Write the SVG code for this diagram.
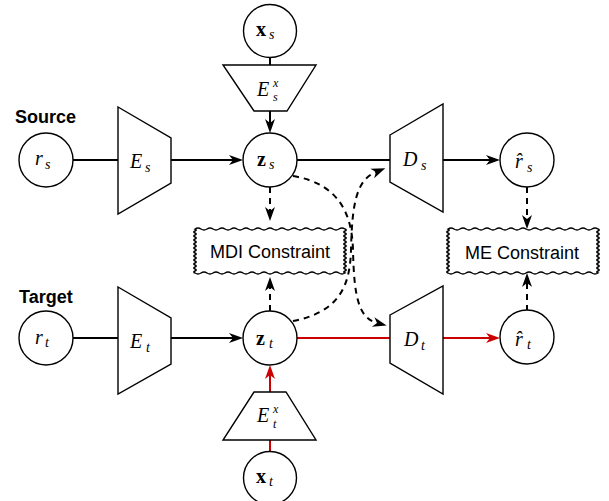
<svg xmlns="http://www.w3.org/2000/svg" xmlns:xlink="http://www.w3.org/1999/xlink" width="609" height="501" viewBox="0 0 609 501">
<style>
.shape{fill:#fff;stroke:#000;stroke-width:1.4}
.c{fill:none;stroke:#000;stroke-width:2}
.red{stroke:#cc0000}
.d{stroke-dasharray:6 5}
.m{font-family:"Liberation Serif",serif;font-style:italic;font-size:20px;fill:#000}
.mb{font-family:"Liberation Serif",serif;font-weight:bold;font-size:20px;fill:#000}
.s{font-family:"Liberation Serif",serif;font-style:italic;font-size:14px;fill:#000}
.ss{font-family:"Liberation Serif",serif;font-style:italic;font-size:12px;fill:#000}
.lbl{font-family:"Liberation Sans",Arial,sans-serif;font-weight:bold;font-size:18px;fill:#000}
.box{font-family:"Liberation Sans",Arial,sans-serif;font-size:18px;fill:#000;text-anchor:middle}
</style>
<defs>
<marker id="ab" markerUnits="userSpaceOnUse" markerWidth="14" markerHeight="10" refX="4" refY="5" orient="auto" overflow="visible"><path d="M0,0 L14,5 L0,10 L4,5 Z" fill="#000"/></marker>
<marker id="ar" markerUnits="userSpaceOnUse" markerWidth="14" markerHeight="10" refX="4" refY="5" orient="auto" overflow="visible"><path d="M0,0 L14,5 L0,10 L4,5 Z" fill="#cc0000"/></marker>
<path id="wbox" class="shape" d="M0,0 q3,-2 6,0 t6,0 t6,0 t6,0 t6,0 t6,0 t6,0 t6,0 t6,0 t6,0 t6,0 t6,0 t6,0 t6,0 t6,0 t6,0 t6,0 t6,0 t6,0 t6,0 t6,0 t6,0 t6,0 t6,0 t6,0 q2.5,1 0,2 t0,2 t0,2 t0,2 t0,2 t0,2 t0,2 t0,2 t0,2 t0,2 t0,2 t0,2 t0,2 t0,2 t0,2 t0,2 t0,2 t0,2 t0,2 t0,2 t0,2 t0,2 q-3,2 -6,0 t-6,0 t-6,0 t-6,0 t-6,0 t-6,0 t-6,0 t-6,0 t-6,0 t-6,0 t-6,0 t-6,0 t-6,0 t-6,0 t-6,0 t-6,0 t-6,0 t-6,0 t-6,0 t-6,0 t-6,0 t-6,0 t-6,0 t-6,0 t-6,0 q-2.5,-1 0,-2 t0,-2 t0,-2 t0,-2 t0,-2 t0,-2 t0,-2 t0,-2 t0,-2 t0,-2 t0,-2 t0,-2 t0,-2 t0,-2 t0,-2 t0,-2 t0,-2 t0,-2 t0,-2 t0,-2 t0,-2 t0,-2 Z"/>
</defs>
<rect width="609" height="501" fill="#fff"/>

<g id="connectors">
<path class="c" d="M73,160 H118"/>
<path class="c" d="M171,160 H233" marker-end="url(#ab)"/>
<path class="c" d="M270,58 V66"/>
<path class="c" d="M270,111 V123" marker-end="url(#ab)"/>
<path class="c" d="M297,160 H390"/>
<path class="c" d="M443,160 H490" marker-end="url(#ab)"/>
<path class="c d" d="M527,187 V219" marker-end="url(#ab)"/>
<path class="c d" d="M270,187 V211" marker-end="url(#ab)"/>
<path class="c d" d="M270,311 V287" marker-end="url(#ab)"/>
<path class="c d" d="M527,311 V283" marker-end="url(#ab)"/>
<path class="c d" d="M293,176 C340,184 352,215 353,250 C354,295 358,318 377,323" marker-end="url(#ab)"/>
<path class="c d" d="M293,321 C340,312 350,285 351,250 C352,205 356,180 376,172" marker-end="url(#ab)"/>
<path class="c" d="M73,338 H118"/>
<path class="c" d="M171,338 H233" marker-end="url(#ab)"/>
<path class="c red" d="M297,338 H390"/>
<path class="c red" d="M443,338 H490" marker-end="url(#ar)"/>
<path class="c red" d="M270,451 V440"/>
<path class="c red" d="M270,392 V375" marker-end="url(#ar)"/>
</g>

<text class="lbl" x="15" y="123">Source</text>
<text class="lbl" x="19" y="303">Target</text>

<g id="r_s"><circle class="shape" cx="46" cy="160" r="27"/><text class="m" x="35" y="165">r</text><text class="s" x="45" y="169">s</text></g>
<g id="E_s"><polygon class="shape" points="118,107 171,138 171,183 118,214"/><text class="m" x="130" y="168">E</text><text class="s" x="145" y="172">s</text></g>
<g id="x_s"><circle class="shape" cx="270" cy="31" r="26.5"/><text class="mb" x="256" y="36">x</text><text class="s" x="269" y="39">s</text></g>
<g id="E_s_x"><polygon class="shape" points="223,65 316,65 287,111 254,111"/><text class="m" x="257" y="96">E</text><text class="ss" x="273" y="87">x</text><text class="ss" x="273" y="101">s</text></g>
<g id="z_s"><circle class="shape" cx="270" cy="160" r="27"/><text class="mb" x="257" y="166">z</text><text class="s" x="269" y="169">s</text></g>
<g id="D_s"><polygon class="shape" points="390,135 443,104 443,212 390,182"/><text class="m" x="403" y="166">D</text><text class="s" x="421" y="170">s</text></g>
<g id="rhat_s"><circle class="shape" cx="527" cy="160" r="27"/><text class="m" x="515" y="168">r&#x302;</text><text class="s" x="527" y="172">s</text></g>
<g id="MDI"><use xlink:href="#wbox" x="195" y="229"/><text class="box" x="270" y="258">MDI Constraint</text></g>
<g id="ME"><use xlink:href="#wbox" x="448" y="229"/><text class="box" x="522" y="259">ME Constraint</text></g>
<g id="r_t"><circle class="shape" cx="46" cy="338" r="27"/><text class="m" x="35" y="344">r</text><text class="s" x="45" y="347">t</text></g>
<g id="E_t"><polygon class="shape" points="118,287 171,318 171,364 118,394"/><text class="m" x="130" y="348">E</text><text class="s" x="146" y="352">t</text></g>
<g id="z_t"><circle class="shape" cx="270" cy="338" r="27"/><text class="mb" x="256" y="345">z</text><text class="s" x="269" y="348">t</text></g>
<g id="D_t"><polygon class="shape" points="390,315 443,286 443,394 390,363"/><text class="m" x="404" y="346">D</text><text class="s" x="421" y="350">t</text></g>
<g id="rhat_t"><circle class="shape" cx="527" cy="337" r="27"/><text class="m" x="515" y="346">r&#x302;</text><text class="s" x="527" y="349">t</text></g>
<g id="E_t_x"><polygon class="shape" points="254,392 286,392 316,440 223,440"/><text class="m" x="257" y="422">E</text><text class="ss" x="273" y="413">x</text><text class="ss" x="273" y="428">t</text></g>
<g id="x_t"><circle class="shape" cx="270" cy="478" r="26.5"/><text class="mb" x="256" y="483">x</text><text class="s" x="269" y="486">t</text></g>
</svg>
